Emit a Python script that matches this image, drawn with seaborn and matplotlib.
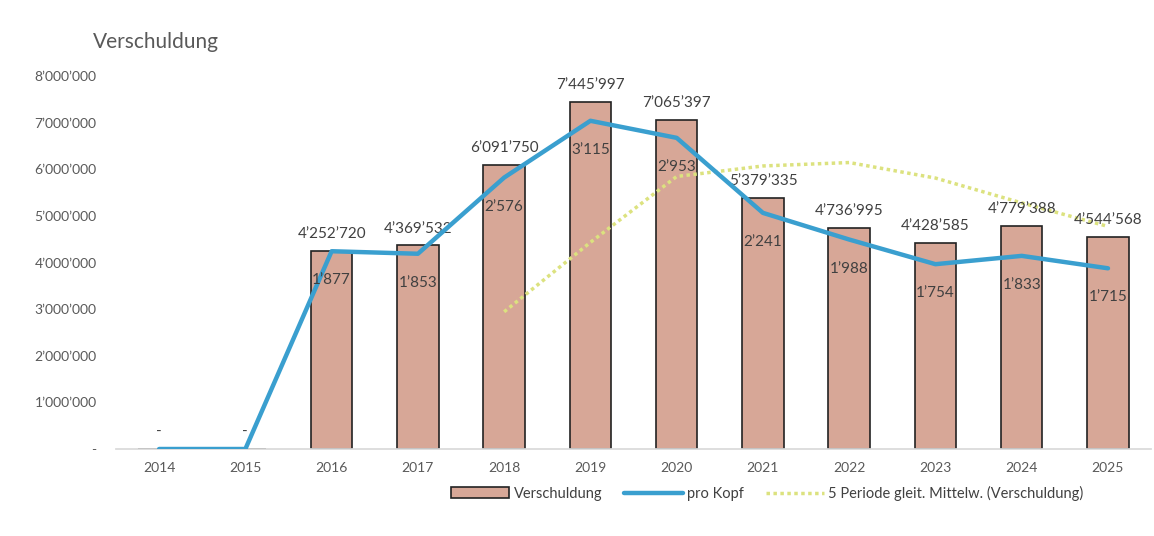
import numpy as np
import pandas as pd
import seaborn as sns
import matplotlib.pyplot as plt
from matplotlib.patches import Patch
from matplotlib.lines import Line2D

years = ["2014", "2015", "2016", "2017", "2018", "2019", "2020", "2021", "2022", "2023", "2024", "2025"]
verschuldung = [0, 0, 4252720, 4369532, 6091750, 7445997, 7065397, 5379335, 4736995, 4428585, 4779388, 4544568]
pro_kopf = [0, 0, 1877, 1853, 2576, 3115, 2953, 2241, 1988, 1754, 1833, 1715]
# 5-period moving average as shown (from 2018 on)
ma_years = ["2018", "2019", "2020", "2021", "2022", "2023", "2024", "2025"]
ma_values = [2942800, 4432000, 5845079, 6070402, 6143895, 5811262, 5277940, 4773774]

def fmt(v):
    if v == 0:
        return "-"
    return f"{int(round(v)):,}".replace(",", "\u2019")

sns.set_theme(style="white")
plt.rcParams['font.family'] = ['Lato', 'DejaVu Sans']

df = pd.DataFrame({"year": years, "verschuldung": verschuldung, "pro_kopf": pro_kopf})
df["pos"] = range(len(df))
ma = pd.DataFrame({"year": ma_years, "ma": ma_values})
ma["pos"] = [years.index(y) for y in ma_years]

bar_color = "#d7a797"
blue = "#3a9fcf"
yellow = "#dce27f"
txt = "#404040"

fig = plt.figure(figsize=(11.54, 5.36), dpi=100)
ax = fig.add_axes([0.1005, 0.1623, 0.897, 0.6959])

sns.barplot(data=df, x="year", y="verschuldung", color=bar_color, edgecolor="#222222",
            linewidth=1.2, width=0.48, saturation=1, ax=ax)
sns.lineplot(data=ma, x="pos", y="ma", color=yellow, linewidth=2.5, linestyle=(0, (1, 1)), ax=ax)

ax.set_xlim(-0.5, len(years) - 0.5)
ax.set_ylim(0, 8000000)
ax.set_yticks(np.arange(0, 8000001, 1000000))
ax.set_yticklabels([fmt(v) for v in np.arange(0, 8000001, 1000000)])
ax.tick_params(axis="y", length=0, pad=14, labelsize=10, labelcolor="#595959")
ax.tick_params(axis="x", length=0, pad=9, labelsize=10, labelcolor="#595959")
ax.set_xlabel("")
ax.set_ylabel("")
for s in ["top", "right", "left"]:
    ax.spines[s].set_visible(False)
ax.spines["bottom"].set_color("#d9d9d9")

for i, v in enumerate(verschuldung):
    ax.annotate(fmt(v), (i, v), xytext=(0, 7), textcoords="offset points",
                ha="center", va="bottom", fontsize=11, color=txt)

ax2 = ax.twinx()
sns.lineplot(data=df, x="pos", y="pro_kopf", color=blue, linewidth=3.2, ax=ax2)
ax2.set_ylim(0, 3540)
ax2.set_yticks([])
ax2.set_ylabel("")
for s in ["top", "right", "left", "bottom"]:
    ax2.spines[s].set_visible(False)
for i, v in enumerate(pro_kopf):
    if v:
        ax2.annotate(fmt(v), (i, v), xytext=(0, -21), textcoords="offset points",
                     ha="center", va="center", fontsize=11, color=txt)

fig.text(0.0806, 0.9216, "Verschuldung", fontsize=15, color="#595959", va="center", ha="left")

handles = [Patch(facecolor=bar_color, edgecolor="#222222", linewidth=1.2),
           Line2D([0], [0], color=blue, linewidth=3.2),
           Line2D([0], [0], color=yellow, linewidth=2.5, linestyle=(0, (1, 1)))]
labels = ["Verschuldung", "pro Kopf", "5 Periode gleit. Mittelw. (Verschuldung)"]
fig.legend(handles, labels, loc="center", bbox_to_anchor=(0.665, 0.08), ncol=3, frameon=False,
           fontsize=10.5, handlelength=4, handletextpad=0.3, columnspacing=1.5, labelcolor="#404040")

fig.savefig("out.png", dpi=100, facecolor="white")
